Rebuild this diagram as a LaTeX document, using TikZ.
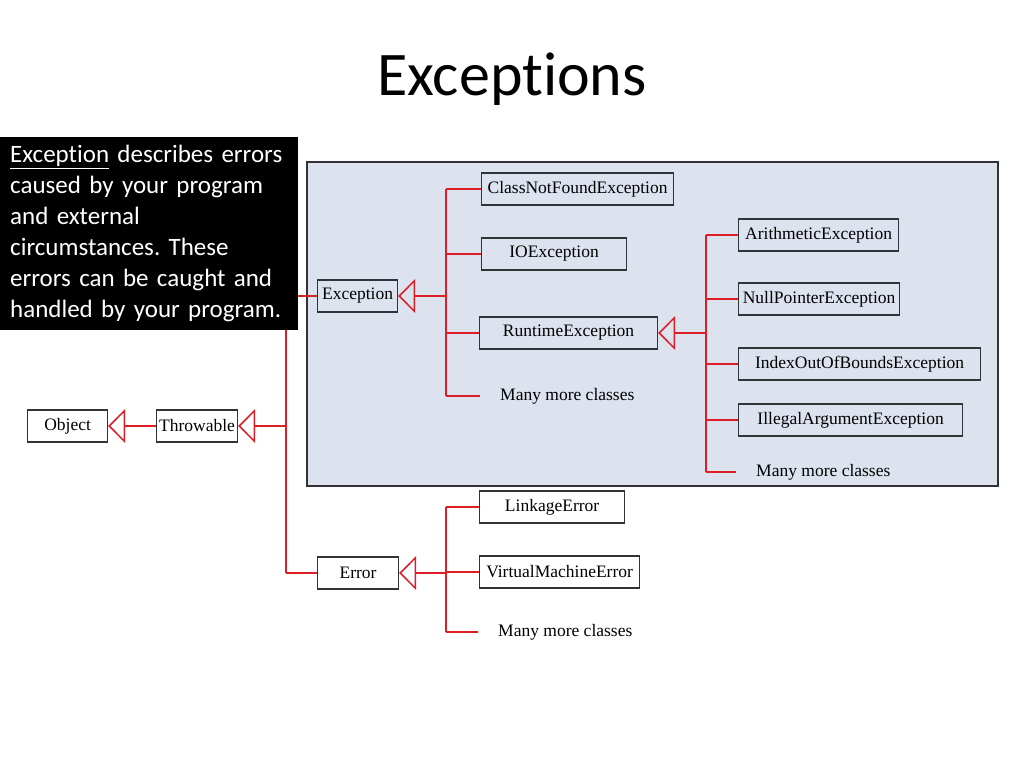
\documentclass[tikz,border=0pt]{standalone}
\usepackage{fontspec}
\setmainfont{Liberation Serif}
\newfontfamily\calibri[Ligatures=NoCommon]{Carlito}
\usetikzlibrary{arrows.meta}
\frenchspacing
\definecolor{umlred}{RGB}{222,30,36}
\definecolor{panelblue}{RGB}{220,227,238}
\definecolor{boxgray}{RGB}{50,50,55}
\tikzset{
	inherits/.style={-{Triangle[open, length=17pt, width=34pt]}},
	manymore/.style={anchor=west, inner xsep=20pt, font=\fontsize{17.5}{20}\selectfont}
}

\begin{document}
\begin{tikzpicture}[x=1pt, y=1pt]
	\useasboundingbox[fill=white] (0,0) rectangle (1024,-768);
	\node[anchor=base, font=\calibri\fontsize{62}{70}\selectfont] (title) at (512,-95) {Exceptions};
	\draw[draw=boxgray, line width=1.8pt, fill=panelblue] (307,-162) rectangle (998,-486);
	\begin{scope}[every node/.style={draw=boxgray, line width=1.2pt, anchor=west, minimum height=32pt, inner sep=1pt, font=\fontsize{17.5}{20}\selectfont}]
		\node[minimum width=80pt]  (object)    at (27 ,-426) {Object};
		\node[minimum width=81pt]  (throwable) at (156,-426) {Throwable};
		\node[minimum width=80pt]  (exception) at (317,-296) {Exception};
		\node[minimum width=81pt]  (error)     at (317,-573) {Error};
		\node[minimum width=192pt] (cnf)       at (481,-189) {ClassNotFoundException};
		\node[minimum width=145pt] (ioe)       at (481,-254) {IOException};
		\node[minimum width=178pt] (rte)       at (479,-333) {RuntimeException};
		\node[minimum width=160pt] (arith)     at (738,-235) {ArithmeticException};
		\node[minimum width=161pt] (npe)       at (738,-299) {NullPointerException};
		\node[minimum width=242pt] (ioobe)     at (738,-364) {IndexOutOfBoundsException};
		\node[minimum width=224pt] (iae)       at (738,-420) {IllegalArgumentException};
		\node[minimum width=145pt] (linkage)   at (479,-507) {LinkageError};
		\node[minimum width=160pt] (vme)       at (479,-572) {VirtualMachineError};
	\end{scope}
	\node[manymore] (more1) at (480,-396) {Many more classes};
	\node[manymore] (more2) at (736,-472) {Many more classes};
	\node[manymore] (more3) at (478,-632) {Many more classes};
	\coordinate (tb)   at (286,-426);
	\coordinate (eb)   at (446,-296);
	\coordinate (rb)   at (706,-333);
	\coordinate (errb) at (446,-573);
	\begin{scope}[every edge/.style={draw=umlred, line width=1.5pt}]
		\path (throwable) edge[inherits] (object);
		\path (tb) edge[inherits] (throwable);
		\path (tb |- exception) edge (tb |- error);
		\path (tb |- exception) edge (exception);
		\path (tb |- error) edge (error);
		\path (eb) edge[inherits] (exception);
		\path (eb |- cnf) edge (eb |- more1);
		\path (eb |- cnf) edge (cnf);
		\path (eb |- ioe) edge (ioe);
		\path (eb |- rte) edge (rte);
		\path (eb |- more1) edge (more1);
		\path (rb) edge[inherits] (rte);
		\path (rb |- arith) edge (rb |- more2);
		\path (rb |- arith) edge (arith);
		\path (rb |- npe) edge (npe);
		\path (rb |- ioobe) edge (ioobe);
		\path (rb |- iae) edge (iae);
		\path (rb |- more2) edge (more2);
		\path (errb) edge[inherits] (error);
		\path (errb |- linkage) edge (errb |- more3);
		\path (errb |- linkage) edge (linkage);
		\path (errb |- vme) edge (vme);
		\path (errb |- more3) edge (more3);
	\end{scope}
	\node[fill=black, text=white, anchor=north west, text width=278pt, inner xsep=10pt, inner ysep=4pt, minimum height=193pt, align=left, font=\calibri\fontsize{25}{31}\selectfont] (note) at (0,-137) {\underline{Exception} describes errors\\caused by your program\\and external\\circumstances. These\\errors can be caught and\\handled by your program.};
\end{tikzpicture}
\end{document}
